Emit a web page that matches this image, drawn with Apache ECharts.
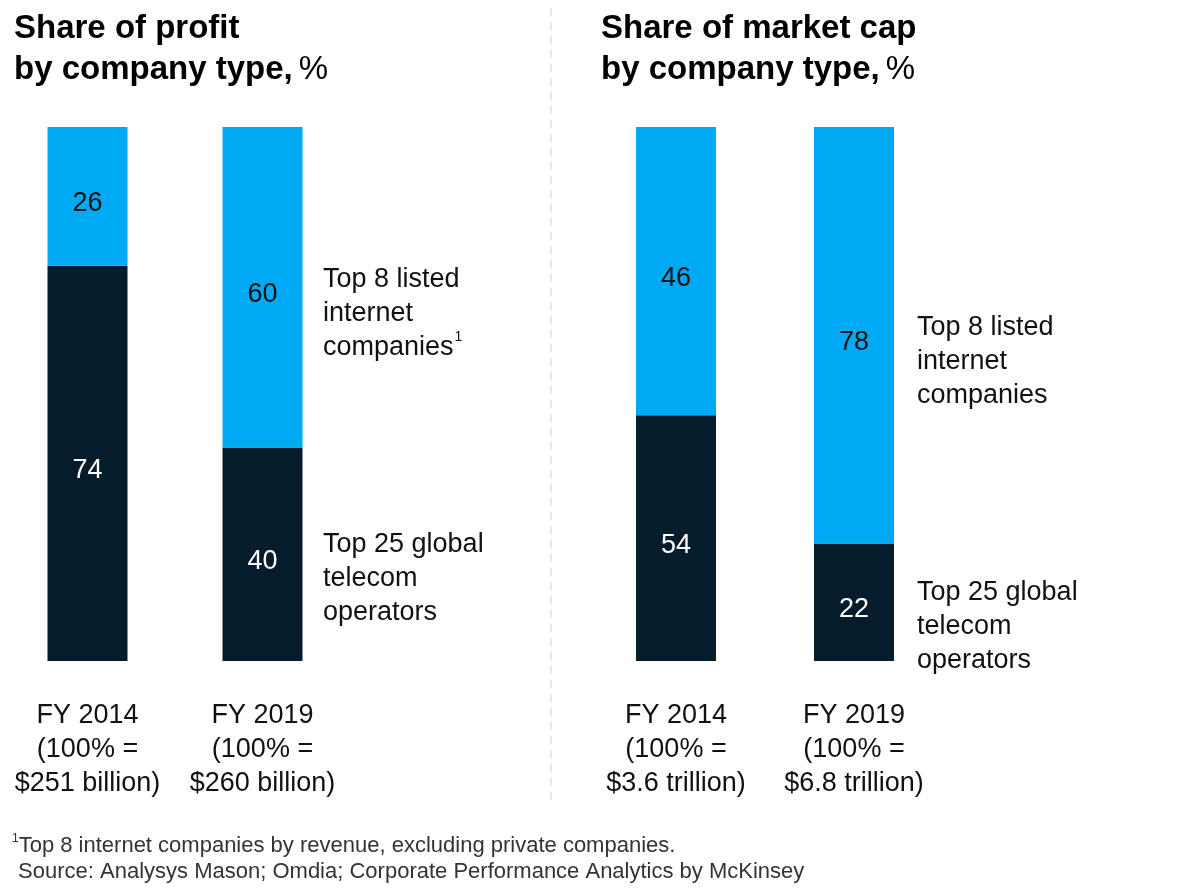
<!DOCTYPE html>
<html>
<head>
<meta charset="utf-8">
<script src="https://cdn.jsdelivr.net/npm/echarts@6/dist/echarts.min.js"></script>
<style>
  html, body { margin: 0; padding: 0; background: #fff; }
  #chart { width: 1200px; height: 890px; }
</style>
</head>
<body>
<div id="chart"></div>
<script>
// data
var years = ['FY 2014', 'FY 2019']
var profitTotals = ['$251 billion', '$260 billion']
var capTotals = ['$3.6 trillion', '$6.8 trillion']
// segment heights as drawn in the picture
var profitTelecom = [74, 40]
var profitInternet = [26, 60]
var capTelecom = [46, 22]
var capInternet = [54, 78]
// numbers printed in the bars (FY 2014 market cap is drawn swapped in the source)
var profitTelecomText = [74, 40]
var profitInternetText = [26, 60]
var capTelecomText = [54, 22]
var capInternetText = [46, 78]

var DARK = '#051c2c'
var BLUE = '#00a9f4'
var FONT = 'Liberation Sans, Arial, sans-serif'

var chart = echarts.init(document.getElementById('chart'))

function xAxisFor(gridIndex, totals) {
  return {
    type: 'category',
    gridIndex: gridIndex,
    data: years,
    axisLine: { show: false },
    axisTick: { show: false },
    axisLabel: {
      interval: 0,
      hideOverlap: false,
      margin: 38,
      fontFamily: FONT,
      fontSize: 27,
      lineHeight: 34,
      color: '#111',
      formatter: function (v, i) {
        return v + '\n(100% =\n' + totals[i] + ')'
      }
    }
  }
}

function yAxisFor(gridIndex) {
  return {
    type: 'value', gridIndex: gridIndex, min: 0, max: 100, show: false
  }
}

function barSeries(name, idx, stack, data, texts, color, textColor) {
  return {
    name: name,
    type: 'bar',
    xAxisIndex: idx,
    yAxisIndex: idx,
    stack: stack,
    barWidth: 80,
    data: data,
    itemStyle: { color: color },
    label: {
      show: true,
      position: 'inside',
      offset: [0, 7],
      color: textColor,
      fontFamily: FONT,
      fontSize: 27,
      formatter: function (p) { return texts[p.dataIndex] }
    },
    emphasis: { disabled: true },
    animation: false
  }
}

chart.setOption({
  animation: false,
  grid: [
    { left: 0, width: 350, top: 127, bottom: 229 },
    { left: 587, width: 356, top: 127, bottom: 229 }
  ],
  xAxis: [xAxisFor(0, profitTotals), xAxisFor(1, capTotals)],
  yAxis: [yAxisFor(0), yAxisFor(1)],
  series: [
    barSeries('Top 25 global telecom operators', 0, 'p', profitTelecom, profitTelecomText, DARK, '#fff'),
    barSeries('Top 8 listed internet companies', 0, 'p', profitInternet, profitInternetText, BLUE, '#111'),
    barSeries('Top 25 global telecom operators', 1, 'c', capTelecom, capTelecomText, DARK, '#fff'),
    barSeries('Top 8 listed internet companies', 1, 'c', capInternet, capInternetText, BLUE, '#111')
  ]
})

// side labels next to the FY 2019 bars, placed from the stacked values
function sideLabels(gridIndex, telecom, internet, x, sup) {
  var t = telecom[1], n = internet[1]
  var yTop = chart.convertToPixel({ gridIndex: gridIndex }, [1, t + n / 2])[1]
  var yBot = chart.convertToPixel({ gridIndex: gridIndex }, [1, t / 2])[1]
  var body = { fontFamily: FONT, fontSize: 27, lineHeight: 34, fill: '#111' }
  return [
    {
      type: 'text', x: x, y: yTop + 26,
      style: Object.assign({
        text: 'Top 8 listed\ninternet\ncompanies' + (sup ? '{s|1}' : ''),
        verticalAlign: 'middle',
        rich: { s: { fontFamily: FONT, fontSize: 14, verticalAlign: 'top', padding: [0, 0, 12, 1], fill: '#111' } }
      }, body)
    },
    {
      type: 'text', x: x, y: yBot + 24,
      style: Object.assign({ text: 'Top 25 global\ntelecom\noperators', verticalAlign: 'middle' }, body)
    }
  ]
}

var titleRich = {
  b: { fontFamily: FONT, fontSize: 33, fontWeight: 'bold', fill: '#000', lineHeight: 41 },
  n: { fontFamily: FONT, fontSize: 33, fill: '#000', lineHeight: 41, padding: [0, 0, 0, 6] }
}

chart.setOption({
  graphic: [
    { type: 'text', x: 14, y: 8, style: { text: '{b|Share of profit}\n{b|by company type,}{n|%}', rich: titleRich } },
    { type: 'text', x: 601, y: 8, style: { text: '{b|Share of market cap}\n{b|by company type,}{n|%}', rich: titleRich } },
    {
      type: 'line', shape: { x1: 551, y1: 8, x2: 551, y2: 800 },
      style: { stroke: '#e6e6e6', lineWidth: 2, lineDash: [8, 6] }
    },
    {
      type: 'text', x: 12, y: 833,
      style: {
        text: '{s|1}{t|Top 8 internet companies by revenue, excluding private companies.}\n{t| Source: Analysys Mason; Omdia; Corporate Performance Analytics by McKinsey}',
        rich: {
          s: { fontFamily: FONT, fontSize: 12, verticalAlign: 'top', padding: [0, 0, 10, 0], fill: '#333' },
          t: { fontFamily: FONT, fontSize: 22, lineHeight: 26, fill: '#333' }
        }
      }
    }
  ].concat(sideLabels(0, profitTelecom, profitInternet, 323, true))
   .concat(sideLabels(1, capTelecom, capInternet, 917, false))
})
</script>
</body>
</html>
